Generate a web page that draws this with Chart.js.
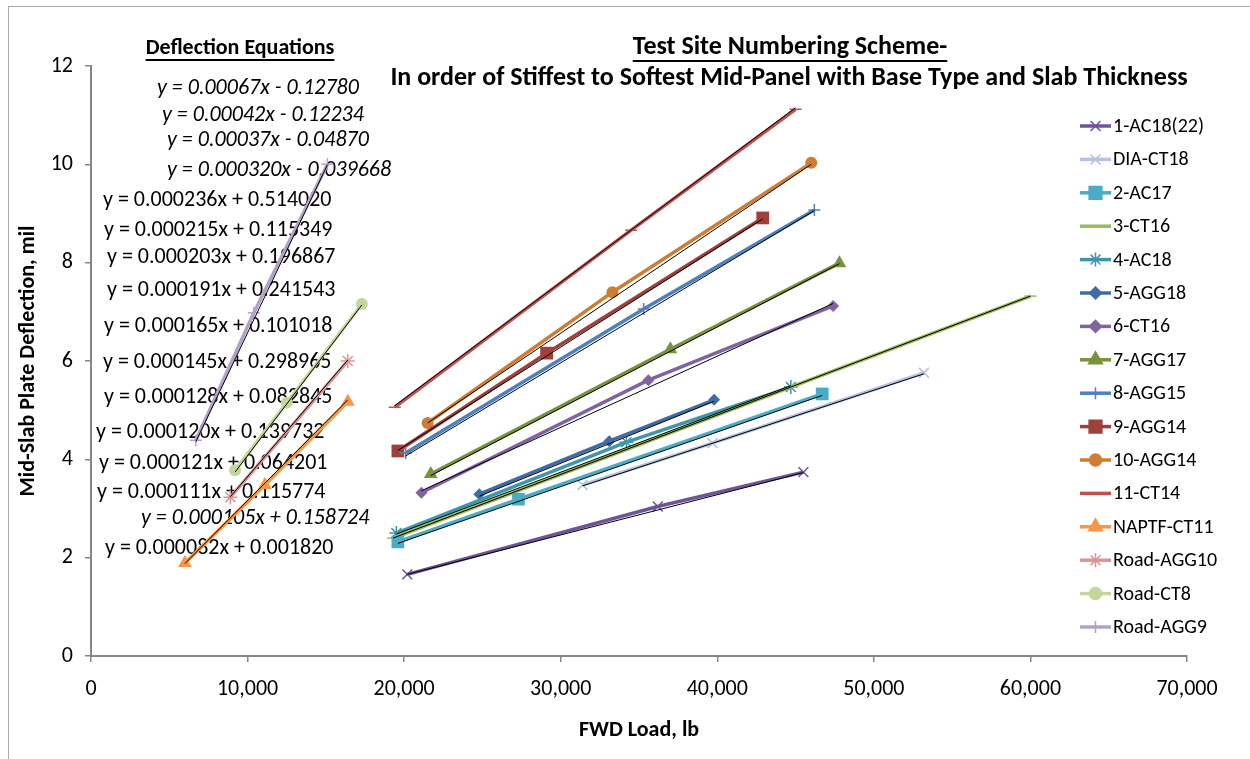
<!DOCTYPE html>
<html>
<head>
<meta charset="utf-8">
<script src="https://cdn.jsdelivr.net/npm/chart.js@4.4.0/dist/chart.umd.min.js"></script>
<style>
  html, body { margin: 0; padding: 0; background: #fff; }
  #wrap { width: 1250px; height: 759px; position: relative; }
</style>
</head>
<body>
<div id="wrap"><canvas id="deflChart"></canvas></div>
<script>
// site names, in legend order
const siteNames = ['1-AC18(22)', 'DIA-CT18', '2-AC17', '3-CT16', '4-AC18', '5-AGG18', '6-CT16', '7-AGG17',
    '8-AGG15', '9-AGG14', '10-AGG14', '11-CT14', 'NAPTF-CT11', 'Road-AGG10', 'Road-CT8', 'Road-AGG9'];

// FWD load (lb) for each site
const loadAC18_22 = [20200, 36200, 45500];
const loadDIA = [31400, 39700, 53200];
const loadAC17 = [19600, 27300, 46700];
const loadCT16a = [19300, 60000];
const loadAC18 = [19500, 34200, 44700];
const loadAGG18 = [24800, 33100, 39800];
const loadCT16b = [21100, 35600, 47400];
const loadAGG17 = [21700, 37000, 47800];
const loadAGG15 = [20100, 35300, 46200];
const loadAGG14a = [19600, 29100, 42900];
const loadAGG14b = [21500, 33300, 46000];
const loadCT14 = [19400, 34500, 45000];
const loadNAPTF = [6000, 11100, 16400];
const loadRoadAGG10 = [8900, 16400];
const loadRoadCT8 = [9200, 12500, 17300];
const loadRoadAGG9 = [6700, 10400, 15100];

// mid-slab deflection (mil) for each site
const deflAC18_22 = [1.66, 3.04, 3.74];
const deflDIA = [3.48, 4.33, 5.76];
const deflAC17 = [2.32, 3.19, 5.33];
const deflCT16a = [2.40, 7.32];
const deflAC18 = [2.50, 4.35, 5.47];
const deflAGG18 = [3.29, 4.37, 5.21];
const deflCT16b = [3.32, 5.61, 7.12];
const deflAGG17 = [3.70, 6.24, 7.99];
const deflAGG15 = [4.13, 7.06, 9.07];
const deflAGG14a = [4.17, 6.16, 8.91];
const deflAGG14b = [4.74, 7.40, 10.03];
const deflCT14 = [5.06, 8.66, 11.12];
const deflNAPTF = [1.89, 3.48, 5.17];
const deflRoadAGG10 = [3.23, 6.00];
const deflRoadCT8 = [3.78, 5.15, 7.16];
const deflRoadAGG9 = [4.39, 6.98, 10.00];

// black linear trendlines: deflection at first and last load of each site
const trendStart = [1.66, 3.46, 2.29, 2.40, 2.48, 3.25, 3.36, 3.67, 4.07, 4.18, 4.74, 5.09, 1.88, 3.24, 3.74, 4.36];
const trendEnd = [3.73, 5.74, 5.30, 7.32, 5.50, 5.18, 7.17, 7.98, 9.06, 8.89, 10.00, 11.15, 5.21, 6.02, 7.14, 9.99];

// axis ticks
const xTicks = [0, 10000, 20000, 30000, 40000, 50000, 60000, 70000];
const yTicks = [0, 2, 4, 6, 8, 10, 12];

// trendline equation labels (as printed on the chart)
const equations = [
    'y = 0.00067x - 0.12780', 'y = 0.00042x - 0.12234', 'y = 0.00037x - 0.04870', 'y = 0.000320x - 0.039668',
    'y = 0.000236x + 0.514020', 'y = 0.000215x + 0.115349', 'y = 0.000203x + 0.196867', 'y = 0.000191x + 0.241543',
    'y = 0.000165x + 0.101018', 'y = 0.000145x + 0.298965', 'y = 0.000128x + 0.082845', 'y = 0.000120x + 0.139732',
    'y = 0.000121x + 0.064201', 'y = 0.000111x + 0.115774', 'y = 0.000105x + 0.158724', 'y = 0.000082x + 0.001820'
];
const eqItalic = [true, true, true, true, false, false, false, false, false, false, false, false, false, false, true, false];
const eqLeft = [157, 162, 167, 167, 103, 104, 107, 107, 104, 103, 104, 96, 99, 97, 141, 105];
const eqTop = [88, 115, 140, 170, 200, 230, 257, 290, 326, 362, 397, 432, 463, 492, 518, 548];

const siteLoads = [loadAC18_22, loadDIA, loadAC17, loadCT16a, loadAC18, loadAGG18, loadCT16b, loadAGG17,
    loadAGG15, loadAGG14a, loadAGG14b, loadCT14, loadNAPTF, loadRoadAGG10, loadRoadCT8, loadRoadAGG9];
const siteDefls = [deflAC18_22, deflDIA, deflAC17, deflCT16a, deflAC18, deflAGG18, deflCT16b, deflAGG17,
    deflAGG15, deflAGG14a, deflAGG14b, deflCT14, deflNAPTF, deflRoadAGG10, deflRoadCT8, deflRoadAGG9];

const siteColors = ['#6F5597', '#B3C2DE', '#4BACC6', '#9BBB59', '#3E96AC', '#3F6CA6', '#8064A2', '#77933C',
    '#4F81BD', '#A0403D', '#D07D33', '#C0504D', '#F79646', '#D99694', '#C3D69B', '#B3A2C7'];
const siteMarkers = ['crossRot', 'crossRot', 'rect', 'line', 'star', 'rectRot', 'rectRot', 'triangle',
    'cross', 'rect', 'circle', 'line', 'triangle', 'star', 'circle', 'cross'];

const FONT = 'Carlito, Lato, sans-serif';
const AXIS_GREY = '#868686';

document.addEventListener("DOMContentLoaded", function () {
    initChart();
});

function isStroked(style) {
    return style === 'crossRot' || style === 'cross' || style === 'star' || style === 'line';
}

function markerRadius(style) {
    if (style === 'rect') return 9;
    if (style === 'triangle') return 8;
    if (style === 'crossRot' || style === 'star') return 7;
    return 6;
}

function buildDatasets() {
    const sets = [];
    siteNames.forEach(function (name, i) {
        const pts = siteLoads[i].map(function (x, j) { return { x: x, y: siteDefls[i][j] }; });
        const stroked = isStroked(siteMarkers[i]);
        sets.push({
            label: name,
            data: pts,
            showLine: true,
            borderColor: siteColors[i],
            backgroundColor: siteColors[i],
            borderWidth: 3.5,
            pointStyle: siteMarkers[i],
            pointRadius: markerRadius(siteMarkers[i]),
            pointBorderWidth: stroked ? 1.5 : 0,
            pointBorderColor: siteColors[i],
            pointBackgroundColor: siteColors[i],
            order: 2
        });
    });
    // trendlines on top
    siteNames.forEach(function (name, i) {
        const xs = siteLoads[i];
        sets.push({
            label: 'trend ' + name,
            data: [{ x: xs[0], y: trendStart[i] }, { x: xs[xs.length - 1], y: trendEnd[i] }],
            showLine: true,
            borderColor: '#000',
            borderWidth: 1,
            pointRadius: 0,
            order: 1
        });
    });
    return sets;
}

function underlinedText(ctx, text, cx, cy, font, gap) {
    ctx.font = font;
    ctx.textAlign = 'center';
    ctx.textBaseline = 'middle';
    ctx.fillText(text, cx, cy);
    const w = ctx.measureText(text).width;
    ctx.fillRect(cx - w / 2, cy + gap, w, 2);
}

const annotations = {
    id: 'annotations',
    beforeDatasetsDraw(chart) {
        const ctx = chart.ctx;
        ctx.save();
        ctx.fillStyle = '#000';
        ctx.textAlign = 'left';
        ctx.textBaseline = 'middle';
        equations.forEach(function (t, i) {
            ctx.font = (eqItalic[i] ? 'italic ' : '') + '22px ' + FONT;
            ctx.fillText(t, eqLeft[i], eqTop[i]);
        });
        ctx.restore();
    },
    afterDraw(chart) {
        const ctx = chart.ctx;
        const area = chart.chartArea;
        ctx.save();

        // outer frame
        ctx.strokeStyle = '#ABABAB';
        ctx.lineWidth = 1;
        ctx.strokeRect(8.5, 6.5, 1400, 900);

        // headings
        ctx.fillStyle = '#000';
        underlinedText(ctx, 'Deflection Equations', 240, 48, 'bold 22px ' + FONT, 11);
        underlinedText(ctx, 'Test Site Numbering Scheme-', 790, 47, 'bold 26px ' + FONT, 13);
        ctx.font = 'bold 26px ' + FONT;
        ctx.textAlign = 'center';
        ctx.textBaseline = 'middle';
        ctx.fillText('In order of Stiffest to Softest Mid-Panel with Base Type and Slab Thickness', 789, 78);

        // axis titles
        ctx.font = 'bold 22px ' + FONT;
        ctx.fillText('FWD Load, lb', 639, 730);
        ctx.save();
        ctx.translate(28, (area.top + area.bottom) / 2);
        ctx.rotate(-Math.PI / 2);
        ctx.fillText('Mid-Slab Plate Deflection, mil', 0, 0);
        ctx.restore();

        // legend
        const helpers = Chart.helpers;
        siteNames.forEach(function (name, i) {
            const y = 126 + i * 33.4;
            const style = siteMarkers[i];
            ctx.strokeStyle = siteColors[i];
            ctx.fillStyle = siteColors[i];
            ctx.lineWidth = 3.5;
            ctx.beginPath();
            ctx.moveTo(1080, y);
            ctx.lineTo(1111, y);
            ctx.stroke();
            if (style !== 'line') {
                ctx.lineWidth = 1.5;
                helpers.drawPoint(ctx, { pointStyle: style, radius: markerRadius(style), rotation: 0, borderWidth: 1.5 }, 1095.5, y);
            }
            ctx.fillStyle = '#000';
            ctx.font = '20px ' + FONT;
            ctx.textAlign = 'left';
            ctx.textBaseline = 'middle';
            ctx.fillText(name, 1113, y + 1);
        });
        ctx.restore();
    }
};

function initChart() {
    const ctx = document.getElementById('deflChart').getContext('2d');
    new Chart(ctx, {
        type: 'scatter',
        data: { datasets: buildDatasets() },
        options: {
            responsive: true,
            maintainAspectRatio: false,
            animation: false,
            layout: { padding: { left: 0, right: 63, top: 66, bottom: 0 } },
            plugins: {
                legend: { display: false },
                tooltip: { enabled: false }
            },
            scales: {
                x: {
                    type: 'linear',
                    min: 0,
                    max: 70000,
                    afterBuildTicks: function (scale) {
                        scale.ticks = xTicks.map(function (v) { return { value: v }; });
                    },
                    afterFit: function (scale) { scale.height = 103; },
                    ticks: {
                        color: '#000',
                        font: { family: FONT, size: 22 },
                        padding: 14,
                        maxRotation: 0,
                        callback: function (v) { return v.toLocaleString('en-US'); }
                    },
                    grid: { drawOnChartArea: false, drawTicks: true, tickLength: 6, color: AXIS_GREY, lineWidth: 1.5 },
                    border: { color: AXIS_GREY, width: 2 }
                },
                y: {
                    type: 'linear',
                    min: 0,
                    max: 12,
                    afterBuildTicks: function (scale) {
                        scale.ticks = yTicks.map(function (v) { return { value: v }; });
                    },
                    afterFit: function (scale) { scale.width = 91; },
                    ticks: {
                        color: '#000',
                        font: { family: FONT, size: 22 },
                        padding: 12
                    },
                    grid: { drawOnChartArea: false, drawTicks: true, tickLength: 6, color: AXIS_GREY, lineWidth: 1.5 },
                    border: { color: AXIS_GREY, width: 2 }
                }
            }
        },
        plugins: [annotations]
    });
}
</script>
</body>
</html>
